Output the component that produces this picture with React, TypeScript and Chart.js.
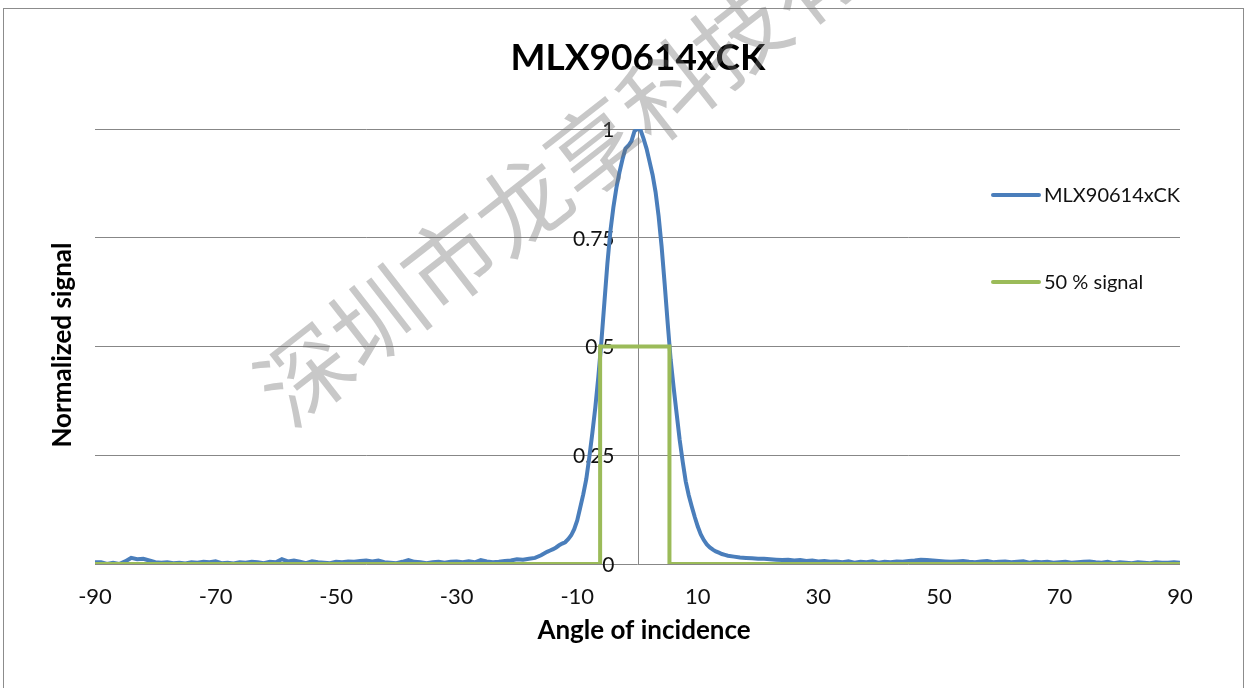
import React, { useEffect, useRef } from "react";
import { Chart, registerables } from "chart.js";

Chart.register(...registerables);

const FONT = "Lato, 'Open Sans', 'DejaVu Sans', sans-serif";

const chartTitle = "MLX90614xCK";
const xAxisTitle = "Angle of incidence";
const yAxisTitle = "Normalized signal";
const watermark = "深圳市龙享科技有限公司";

const xTicks = [-90, -70, -50, -30, -10, 10, 30, 50, 70, 90];
const yTicks = [0, 0.25, 0.5, 0.75, 1];
const yTickLabels = ["0", "0.25", "0.5", "0.75", "1"];

const seriesNames = ["MLX90614xCK", "50 % signal"];

// Measured curve
const blueAngles = [
  -90, -89, -88, -87, -86, -85, -84, -83, -82, -81, -80, -79, -78, -77, -76, -75, -74, -73, -72, -71,
  -70, -69, -68, -67, -66, -65, -64, -63, -62, -61, -60, -59, -58, -57, -56, -55, -54, -53, -52, -51,
  -50, -49, -48, -47, -46, -45, -44, -43, -42, -41, -40, -39, -38, -37, -36, -35, -34, -33, -32, -31,
  -30, -29, -28, -27, -26, -25, -24, -23, -22, -21, -20, -19, -18, -17, -16,
  -15, -14.5, -14, -13.5, -13, -12.5, -12, -11.5, -11, -10.5, -10, -9.5, -9, -8.5, -8, -7.5, -7, -6.5,
  -6, -5.5, -5, -4.5, -4, -3.5, -3, -2.5, -2, -1.5, -1, -0.5, 0, 0.5, 1, 1.5, 2, 2.5, 3, 3.5, 4, 4.5,
  5, 5.5, 6, 6.5, 7, 7.5, 8, 8.5, 9, 9.5, 10, 10.5, 11, 11.5, 12, 12.5, 13, 13.5, 14, 14.5, 15,
  16, 17, 18, 19, 20, 21, 22, 23, 24, 25, 26, 27, 28, 29, 30, 31, 32, 33, 34, 35, 36, 37, 38, 39,
  40, 41, 42, 43, 44, 45, 46, 47, 48, 49, 50, 51, 52, 53, 54, 55, 56, 57, 58, 59, 60, 61, 62, 63,
  64, 65, 66, 67, 68, 69, 70, 71, 72, 73, 74, 75, 76, 77, 78, 79, 80, 81, 82, 83, 84, 85, 86, 87,
  88, 89, 90,
];

const blueSignal = [
  0.004, 0.004, 0.0, 0.003, 0.0, 0.006, 0.014, 0.011, 0.012, 0.008, 0.004, 0.003, 0.004, 0.002, 0.003, 0.001, 0.004, 0.003, 0.005, 0.004,
  0.006, 0.002, 0.003, 0.001, 0.004, 0.003, 0.005, 0.004, 0.002, 0.005, 0.004, 0.011, 0.006, 0.008, 0.005, 0.002, 0.006, 0.004, 0.003, 0.002,
  0.005, 0.004, 0.006, 0.005, 0.007, 0.008, 0.006, 0.008, 0.004, 0.003, 0.002, 0.005, 0.009, 0.005, 0.004, 0.002, 0.004, 0.005, 0.003, 0.005,
  0.006, 0.004, 0.006, 0.004, 0.009, 0.006, 0.004, 0.005, 0.007, 0.008, 0.011, 0.01, 0.012, 0.014, 0.02,
  0.028, 0.031, 0.034, 0.038, 0.043, 0.047, 0.05, 0.057, 0.066, 0.08, 0.1, 0.13, 0.16, 0.195, 0.245, 0.3, 0.36, 0.43,
  0.51, 0.6, 0.69, 0.765, 0.82, 0.865, 0.9, 0.93, 0.955, 0.962, 0.972, 0.995, 1.0, 0.998, 0.978, 0.955, 0.925, 0.895, 0.855, 0.8, 0.73, 0.645,
  0.555, 0.47, 0.405, 0.345, 0.285, 0.235, 0.19, 0.158, 0.132, 0.108, 0.086, 0.068, 0.055, 0.045, 0.038, 0.033, 0.029, 0.026, 0.023, 0.021, 0.019,
  0.017, 0.015, 0.014, 0.013, 0.012, 0.012, 0.011, 0.01, 0.009, 0.01, 0.008, 0.009, 0.007, 0.008, 0.006, 0.007, 0.005, 0.006, 0.004, 0.006, 0.003, 0.005, 0.004, 0.006,
  0.003, 0.005, 0.004, 0.006, 0.005, 0.007, 0.008, 0.01, 0.009, 0.008, 0.007, 0.006, 0.005, 0.006, 0.007, 0.005, 0.004, 0.006, 0.007, 0.004, 0.005, 0.006, 0.004, 0.005,
  0.006, 0.003, 0.005, 0.004, 0.005, 0.003, 0.004, 0.005, 0.003, 0.004, 0.005, 0.006, 0.004, 0.003, 0.005, 0.002, 0.004, 0.003, 0.002, 0.004, 0.003, 0.002, 0.004, 0.003,
  0.003, 0.004, 0.003,
];

// 50 % signal window
const greenAngles = [-90, -6.2, -6.2, 5.3, 5.3, 90];
const greenSignal = [0, 0, 0.5, 0.5, 0, 0];

const BLUE = "#4A7EBB";
const GREEN = "#9BBB59";
const GRID = "#878787";

export default function App() {
  const ref = useRef<HTMLCanvasElement>(null);

  useEffect(() => {
    if (!ref.current) return;
    const blueData = blueAngles.map((a, i) => ({ x: a, y: blueSignal[i] }));
    const greenData = greenAngles.map((a, i) => ({ x: a, y: greenSignal[i] }));

    const decor = {
      id: "decor",
      beforeDraw(chart: any) {
        const ctx = chart.ctx;
        ctx.save();
        ctx.fillStyle = "#ffffff";
        ctx.fillRect(0, 0, chart.width, chart.height);
        ctx.strokeStyle = "#8c8c8c";
        ctx.lineWidth = 1;
        ctx.strokeRect(3.5, 8.5, 1240, 700);
        ctx.restore();
      },
      beforeDatasetsDraw(chart: any) {
        const ctx = chart.ctx;
        const xs = chart.scales.x;
        const ys = chart.scales.y;
        const x0 = Math.round(xs.getPixelForValue(0)) + 0.5;
        ctx.save();
        ctx.strokeStyle = GRID;
        ctx.lineWidth = 1;
        ctx.beginPath();
        ctx.moveTo(x0, chart.chartArea.top);
        ctx.lineTo(x0, chart.chartArea.bottom);
        ctx.stroke();
        // y tick labels next to the vertical axis at x = 0
        ctx.fillStyle = "#111";
        ctx.font = `21px ${FONT}`;
        ctx.textAlign = "right";
        ctx.textBaseline = "middle";
        yTicks.forEach((v, i) => {
          ctx.fillText(yTickLabels[i], x0 - 24, ys.getPixelForValue(v) + 1);
        });
        ctx.restore();
      },
      afterDraw(chart: any) {
        const ctx = chart.ctx;
        ctx.save();
        ctx.fillStyle = "#000";
        ctx.textAlign = "center";
        ctx.textBaseline = "middle";
        ctx.font = `bold 37px ${FONT}`;
        ctx.fillText(chartTitle, 638, 58);
        ctx.font = `bold 26px ${FONT}`;
        ctx.fillText(xAxisTitle, 644, 631);
        ctx.save();
        ctx.translate(63, 345);
        ctx.rotate(-Math.PI / 2);
        ctx.fillText(yAxisTitle, 0, 0);
        ctx.restore();

        // legend
        const colors = [BLUE, GREEN];
        const ly = [195, 282];
        ctx.lineCap = "round";
        ctx.lineWidth = 4;
        seriesNames.forEach((name, i) => {
          ctx.strokeStyle = colors[i];
          ctx.beginPath();
          ctx.moveTo(993, ly[i]);
          ctx.lineTo(1039, ly[i]);
          ctx.stroke();
          ctx.fillStyle = "#111";
          ctx.font = `20px ${FONT}`;
          ctx.textAlign = "left";
          ctx.fillText(name, 1044, ly[i] + 1);
        });

        // watermark
        ctx.translate(290, 430);
        ctx.rotate((-38 * Math.PI) / 180);
        ctx.fillStyle = "rgba(110,110,110,0.38)";
        ctx.font = `92px 'Noto Sans CJK SC', sans-serif`;
        ctx.textAlign = "left";
        ctx.textBaseline = "alphabetic";
        ctx.fillText(watermark, 0, 0);
        ctx.restore();
      },
    };

    const chart = new Chart(ref.current, {
      type: "scatter",
      data: {
        datasets: [
          {
            label: seriesNames[0],
            data: blueData,
            showLine: true,
            borderColor: BLUE,
            backgroundColor: BLUE,
            borderWidth: 4,
            pointRadius: 0,
            tension: 0,
            order: 2,
          },
          {
            label: seriesNames[1],
            data: greenData,
            showLine: true,
            borderColor: GREEN,
            backgroundColor: GREEN,
            borderWidth: 4,
            pointRadius: 0,
            tension: 0,
            order: 1,
          },
        ],
      },
      options: {
        responsive: false,
        animation: false,
        events: [],
        layout: { padding: { left: 95, right: 68, top: 129, bottom: 0 } },
        plugins: {
          legend: { display: false },
          title: { display: false },
          tooltip: { enabled: false },
        },
        scales: {
          x: {
            type: "linear",
            min: -90,
            max: 90,
            afterBuildTicks: (s: any) => {
              s.ticks = xTicks.map((v) => ({ value: v }));
            },
            afterFit: (s: any) => {
              s.height = 124;
            },
            grid: { display: false, drawTicks: false },
            border: { display: false },
            ticks: {
              padding: 20,
              color: "#111",
              font: { family: FONT, size: 22 },
              autoSkip: false,
              maxRotation: 0,
              callback: (v: any) => String(v),
            },
          },
          y: {
            type: "linear",
            min: 0,
            max: 1,
            afterBuildTicks: (s: any) => {
              s.ticks = yTicks.map((v) => ({ value: v }));
            },
            afterFit: (s: any) => {
              s.width = 0;
            },
            ticks: { display: false },
            grid: { drawTicks: false, color: GRID, lineWidth: 1 },
            border: { display: false },
          },
        },
      },
      plugins: [decor],
    } as any);

    return () => chart.destroy();
  }, []);

  return (
    <div style={{ position: "fixed", left: 0, top: 0, width: 1248, height: 688, background: "#fff" }}>
      <canvas ref={ref} width={1248} height={688} style={{ display: "block" }} />
    </div>
  );
}
